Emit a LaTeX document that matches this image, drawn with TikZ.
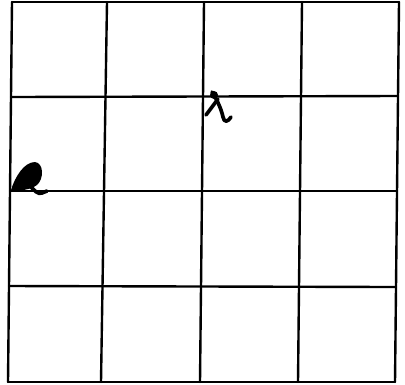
\documentclass[tikz,border=0pt]{standalone}
\begin{document}
\begin{tikzpicture}[x=0.025cm, y=-0.025cm, line cap=round, line join=round,
    gridline/.style={line width=1.7pt, black},
    pen/.style={line width=2.6pt, black}]
        % Page frame (keeps the margins of the sheet)
        \useasboundingbox (0,0) rectangle (405,384);

        % Hand-drawn 4x4 grid: vertical lines (top x / bottom x)
        \foreach \xt/\xb in {12/8, 107/101, 204/200, 302/298, 399/395} {
            \draw[gridline] (\xt,2) -- (\xb,382);
        }
        % Horizontal lines (y left / y right, x left / x right)
        \foreach \yl/\yr/\xl/\xr in {2/2/12/399, 97/96/11/398, 191/191/10/397, 286/287/9/396, 382/382/8/395} {
            \draw[gridline] (\xl,\yl) -- (\xr,\yr);
        }

        % Cursive x near the top of the middle-right cell
        \draw[pen] (212,92) .. controls (217,100) and (221,108) .. (223,117)
            .. controls (224,123) and (228,122) .. (231,117);
        \draw[pen] (206,115) -- (218,99);
        \fill (214,95) circle (4);

        % Blob with a tail on the left edge
        \fill (11,190) .. controls (15,177) and (24,162) .. (35,162)
            .. controls (44,163) and (44,179) .. (37,185)
            .. controls (30,190) and (20,191) .. (11,190) -- cycle;
        \draw[pen] (30,186) .. controls (34,190) and (38,195) .. (42,193) -- (47,191);
    \end{tikzpicture}
\end{document}
